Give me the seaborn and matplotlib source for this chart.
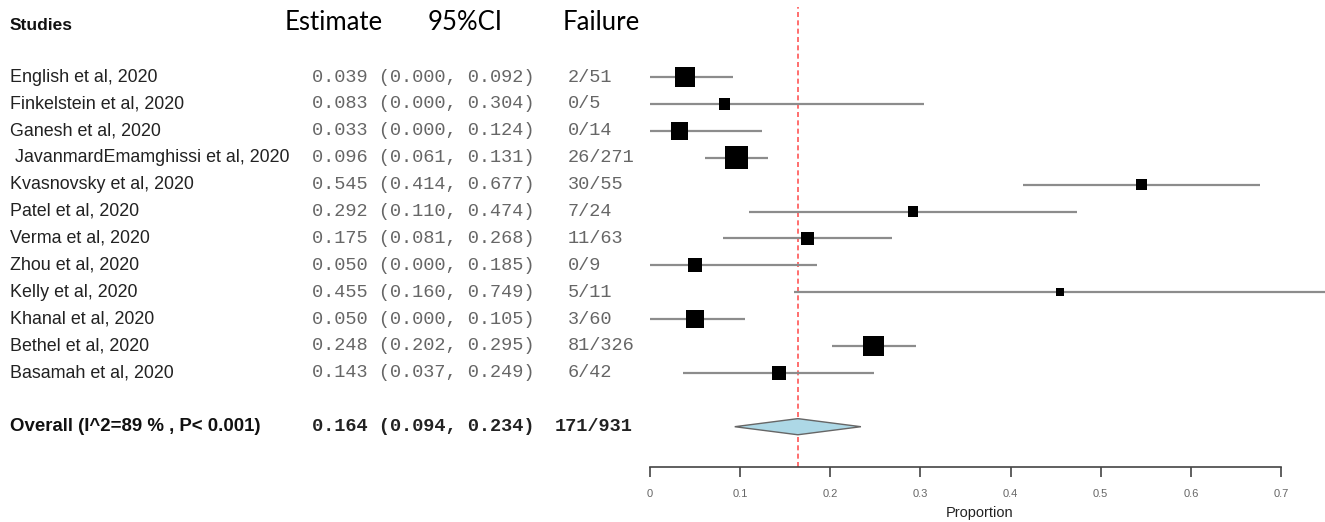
import matplotlib
matplotlib.use("Agg")
import matplotlib.pyplot as plt
import matplotlib.transforms as mtransforms
import numpy as np
import pandas as pd
import seaborn as sns

studies = ["English et al, 2020", "Finkelstein et al, 2020", "Ganesh et al, 2020",
           " JavanmardEmamghissi et al, 2020", "Kvasnovsky et al, 2020", "Patel et al, 2020",
           "Verma et al, 2020", "Zhou et al, 2020", "Kelly et al, 2020",
           "Khanal et al, 2020", "Bethel et al, 2020", "Basamah et al, 2020"]
estimate = [0.039, 0.083, 0.033, 0.096, 0.545, 0.292, 0.175, 0.050, 0.455, 0.050, 0.248, 0.143]
ci_low = [0.000, 0.000, 0.000, 0.061, 0.414, 0.110, 0.081, 0.000, 0.160, 0.000, 0.202, 0.037]
ci_high = [0.092, 0.304, 0.124, 0.131, 0.677, 0.474, 0.268, 0.185, 0.749, 0.105, 0.295, 0.249]
failure = ["2/51", "0/5", "0/14", "26/271", "30/55", "7/24", "11/63", "0/9", "5/11", "3/60", "81/326", "6/42"]
weights = [14.1, 4.3, 10.2, 17.1, 4.3, 3.5, 6.0, 6.9, 2.3, 11.4, 14.1, 6.0]

overall_label = "Overall (I^2=89 % , P< 0.001)"
overall_est, overall_low, overall_high = 0.164, 0.094, 0.234
overall_failure = "171/931"
ticks = [0, 0.1, 0.2, 0.3, 0.4, 0.5, 0.6, 0.7]

df = pd.DataFrame({"study": studies, "est": estimate, "lo": ci_low, "hi": ci_high,
                   "fail": failure, "w": weights})
df["row"] = np.arange(len(df))
overall_row = len(df) + 1

sns.set_style("white")
plt.rcParams["font.family"] = ["Liberation Sans", "DejaVu Sans"]
mono = ["Liberation Mono", "DejaVu Sans Mono"]

W, H = 1325, 522
fig = plt.figure(figsize=(W / 100, H / 100), dpi=100)
ax = fig.add_axes([0, 55 / H, 1, 467 / H])

# x scale: 0 at px 650, 0.7 at px 1281
px_per_unit = (1281 - 650) / 0.7
ax.set_xlim(-650 / px_per_unit, (W - 650) / px_per_unit)
row_px = 26.9
ax.set_ylim((467 - 77) / row_px, -77 / row_px)

# CI lines
ax.hlines(df["row"], df["lo"], df["hi"], color="#8c8c8c", lw=1.6, zorder=2)

# squares (area ~ weight)
sns.scatterplot(data=df, x="est", y="row", marker="s", color="black",
                s=df["w"] * 15.5, linewidth=0, legend=False, ax=ax, zorder=3)

# overall diamond
dh = 0.3
ax.fill([overall_low, overall_est, overall_high, overall_est],
        [overall_row, overall_row - dh, overall_row, overall_row + dh],
        facecolor="#add8e6", edgecolor="#666666", lw=1, zorder=3)

# reference line at pooled estimate
ax.axvline(overall_est, ymin=0, ymax=0.985, color="#ff5555", ls=(0, (3, 2)), lw=1.2, zorder=1)

# axis
for s in ["top", "left", "right"]:
    ax.spines[s].set_visible(False)
ax.spines["bottom"].set_bounds(0, 0.7)
ax.spines["bottom"].set_color("#444444")
ax.spines["bottom"].set_linewidth(1.2)
ax.set_xticks(ticks)
ax.set_xticklabels([f"{t:g}" for t in ticks], fontsize=8, color="#666666")
ax.tick_params(axis="x", direction="out", length=7, width=1.2, color="#444444", pad=9, bottom=True)
ax.set_yticks([])
ax.set_xlabel("")
ax.set_ylabel("")
fig.text(980 / W, 1 - 513 / H, "Proportion", ha="center", va="center", fontsize=10.5, color="#222222")

trans = mtransforms.blended_transform_factory(fig.transFigure, ax.transData)

# headers
hdr_row = (25 - 77) / row_px
ax.text(10 / W, hdr_row, "Studies", transform=trans, fontsize=12.5, fontweight="bold", va="center", color="#111111")
for x, lab in [(285, "Estimate"), (428, "95%CI"), (563, "Failure")]:
    ax.text(x / W, hdr_row - 0.1, lab, transform=trans, fontsize=18.5, family=["Lato", "DejaVu Sans"],
            va="center", color="#000000")

# study rows
for _, r in df.iterrows():
    ax.text(10 / W, r["row"], r["study"], transform=trans, fontsize=12.9, va="center", color="#222222")
    ax.text(312 / W, r["row"], f"{r['est']:.3f} ({r['lo']:.3f}, {r['hi']:.3f})", transform=trans,
            fontsize=13.4, family=mono, va="center", color="#666666")
    ax.text(568 / W, r["row"], r["fail"], transform=trans,
            fontsize=13.4, family=mono, va="center", color="#666666")

# overall row
ax.text(10 / W, overall_row, overall_label, transform=trans, fontsize=13.4, fontweight="bold", va="center", color="#111111")
ax.text(312 / W, overall_row, f"{overall_est:.3f} ({overall_low:.3f}, {overall_high:.3f})", transform=trans,
        fontsize=13.4, fontweight="bold", family=mono, va="center", color="#222222")
ax.text(555 / W, overall_row, overall_failure, transform=trans,
        fontsize=13.4, fontweight="bold", family=mono, va="center", color="#222222")

fig.savefig("out.png", dpi=100)
